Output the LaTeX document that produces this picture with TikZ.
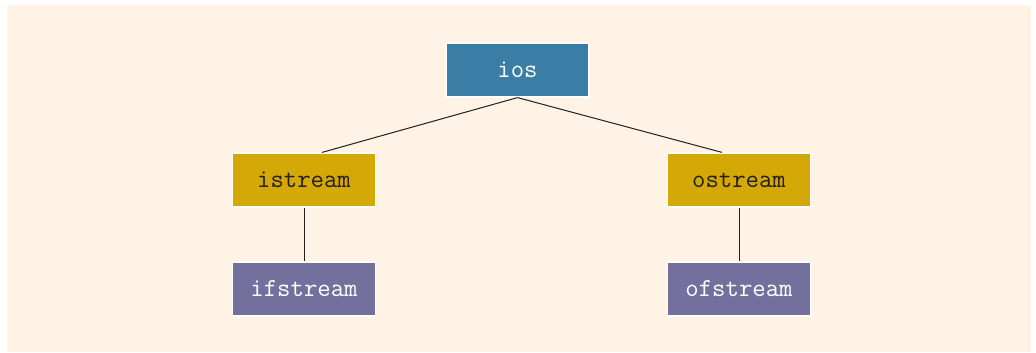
\documentclass[tikz,border=0pt]{standalone}
\definecolor{bgbeige}{HTML}{FEF3E4}
\definecolor{iosblue}{HTML}{3A7EA6}
\definecolor{streamgold}{HTML}{D4A806}
\definecolor{filepurple}{HTML}{73709E}
\definecolor{linkdark}{HTML}{231F20}
\tikzset{
 classbox/.style={draw=white,line width=1.2pt,minimum width=143pt,minimum height=54pt,
  inner sep=0pt,font=\ttfamily\fontsize{26}{29}\selectfont},
 link/.style={draw=linkdark,line width=1pt}
}
\begin{document}
\begin{tikzpicture}[x=1pt,y=-1pt]
 \useasboundingbox (0,0) rectangle (1036,353);
 \fill[bgbeige] (7,5) rectangle (1031,352);
 \node[classbox,fill=iosblue,text=white] (ios) at (517.5,70) {ios};
 \node[classbox,fill=streamgold,text=linkdark] (istream) at (304,180) {istream};
 \node[classbox,fill=streamgold,text=linkdark] (ostream) at (739,180) {ostream};
 \node[classbox,fill=filepurple,text=white] (ifstream) at (304,289) {ifstream};
 \node[classbox,fill=filepurple,text=white] (ofstream) at (739,289) {ofstream};
 \draw[link] (ios.south) -- ([xshift=18pt]istream.north);
 \draw[link] (ios.south) -- ([xshift=-17pt]ostream.north);
 \draw[link] (istream.south) -- (ifstream.north);
 \draw[link] (ostream.south) -- (ofstream.north);
\end{tikzpicture}
\end{document}
